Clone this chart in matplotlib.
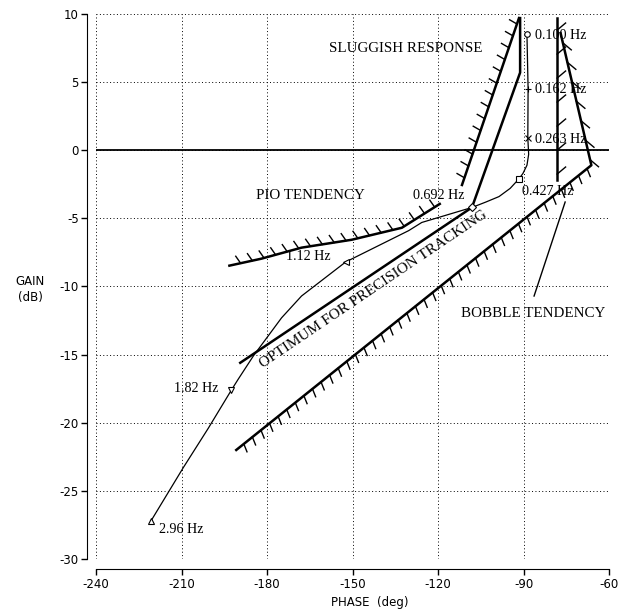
"""Gain-phase chart (Nichols-style) with handling-quality boundaries."""

import matplotlib
matplotlib.use('Agg')
import matplotlib.pyplot as plt
import numpy as np

plt.rcParams['axes.unicode_minus'] = False

# closed-loop response
curve_phase = [-88.8, -88.4, -88.5, -88.2, -88.8, -90.2, -91.6, -94.7, -98.6, -103.2,
               -108.1, -125.7, -130.3, -152.4, -167.9, -174.9, -184.8, -190.1, -192.5,
               -200.6, -209.4, -220.7]
curve_gain = [8.5, 4.5, 0.9, -0.3, -1.1, -1.7, -2.1, -2.8, -3.4, -3.8,
              -4.2, -5.3, -5.9, -8.2, -10.7, -12.3, -15.1, -16.8, -17.6,
              -20.4, -23.3, -27.2]

# labelled frequency points
freq_labels = ['0.100 Hz', '0.162 Hz', '0.263 Hz', '0.427 Hz', '0.692 Hz',
               '1.12 Hz', '1.82 Hz', '2.96 Hz']
freq_phase = [-88.8, -88.4, -88.5, -91.6, -108.1, -152.4, -192.5, -220.7]
freq_gain = [8.5, 4.5, 0.9, -2.1, -4.2, -8.2, -17.6, -27.2]
freq_markers = ['o', '+', 'x', 's', 'D', '<', 'v', '^']

# boundaries
sluggish_phase = [-91.6, -111.6]
sluggish_gain = [9.7, -2.55]
pio_phase = [-119.4, -132.7, -150.3, -167.9, -182.0, -193.2]
pio_gain = [-3.94, -5.69, -6.57, -7.15, -7.96, -8.47]
optimum_phase = [-91.2, -91.2, -108.1, -189.4]
optimum_gain = [9.7, 5.7, -4.2, -15.6]
bobble_vert_phase = [-78.2, -78.2]
bobble_vert_gain = [9.7, -2.2]
bobble_phase = [-77.0, -66.2, -190.8]
bobble_gain = [8.6, -1.1, -22.0]

SERIF = 'Liberation Serif'


def hatch(ax, phase, gain, angle, step=12.0, length=8.5):
    """Short ticks along a polyline, drawn in pixel space at a fixed angle."""
    pts = ax.transData.transform(np.column_stack([phase, gain]))
    seg = np.diff(pts, axis=0)
    seglen = np.hypot(seg[:, 0], seg[:, 1])
    cum = np.concatenate([[0.0], np.cumsum(seglen)])
    vec = np.array([np.cos(np.radians(angle)), np.sin(np.radians(angle))]) * length
    inv = ax.transData.inverted()
    for d in np.arange(step / 2, cum[-1], step):
        i = min(np.searchsorted(cum, d, side='right') - 1, len(seg) - 1)
        p = pts[i] + seg[i] * (d - cum[i]) / seglen[i]
        a, b = inv.transform(np.vstack([p, p + vec]))
        ax.plot([a[0], b[0]], [a[1], b[1]], color='black', lw=1.0, clip_on=False)


fig = plt.figure(figsize=(6.26, 6.14), dpi=100)
ax = fig.add_axes([0.1534, 0.0896, 0.8195, 0.8876])
ax.set_xlim(-240, -60)
ax.set_ylim(-30, 10)
ax.set_xticks(np.arange(-240, -59, 30))
ax.set_yticks(np.arange(-30, 11, 5))
ax.grid(True, color='black', lw=0.7, ls=(0, (1, 2.5)))
ax.set_axisbelow(True)
for side in ('top', 'right'):
    ax.spines[side].set_visible(False)
ax.spines['left'].set_position(('outward', 6.5))
ax.spines['bottom'].set_position(('outward', 7.5))
ax.tick_params(direction='out', length=4, width=1, labelsize=8.5, pad=2)
ax.axhline(0, color='black', lw=1.3)

# boundary lines
ax.plot(sluggish_phase, sluggish_gain, color='black', lw=1.8)
ax.plot(pio_phase, pio_gain, color='black', lw=1.8)
ax.plot(optimum_phase, optimum_gain, color='black', lw=1.8)
ax.plot(bobble_vert_phase, bobble_vert_gain, color='black', lw=1.8)
ax.plot(bobble_phase, bobble_gain, color='black', lw=1.8)
hatch(ax, sluggish_phase, sluggish_gain, 150, step=12.5)
hatch(ax, pio_phase, pio_gain, 125, step=12)
hatch(ax, bobble_vert_phase, bobble_vert_gain, 40, step=24, length=11)
hatch(ax, bobble_phase[:2], bobble_gain[:2], -40, step=20, length=11)
hatch(ax, bobble_phase[1:], bobble_gain[1:], -68, step=11)

# response curve
ax.plot(curve_phase, curve_gain, color='black', lw=0.9)
for ph, g, m in zip(freq_phase, freq_gain, freq_markers):
    ax.plot(ph, g, marker=m, ms=4, mfc='white', mec='black', mew=0.8, color='black')

txt = dict(family=SERIF, fontsize=10.2, va='center', ha='left')
label_pos = [(-86.0, 8.45), (-86.0, 4.45), (-86.0, 0.8), (-90.5, -3.0),
             (-128.9, -3.3), (-173.2, -7.8), (-212.6, -17.5), (-217.8, -27.8)]
for lab, (x, y) in zip(freq_labels, label_pos):
    ax.text(x, y, lab, **txt)
ax.text(-158.4, 7.5, 'SLUGGISH RESPONSE', **dict(txt, fontsize=10.8))
ax.text(-183.7, -3.3, 'PIO TENDENCY', **dict(txt, fontsize=10.8))
ax.text(-112.0, -12.0, 'BOBBLE TENDENCY', **dict(txt, fontsize=10.8))
ax.text(-142.6, -10.2, 'OPTIMUM FOR PRECISION TRACKING', family=SERIF, fontsize=11,
        rotation=34, rotation_mode='anchor', ha='center', va='center')
ax.plot([-75.4, -86.3], [-3.8, -10.7], color='black', lw=1.0)

fig.text(0.048, 0.528, 'GAIN\n(dB)', ha='center', va='center', fontsize=8.5,
         linespacing=1.3)
fig.text(0.59, 0.018, 'PHASE  (deg)', ha='center', va='center', fontsize=8.5)

fig.savefig('out.png', dpi=100)
